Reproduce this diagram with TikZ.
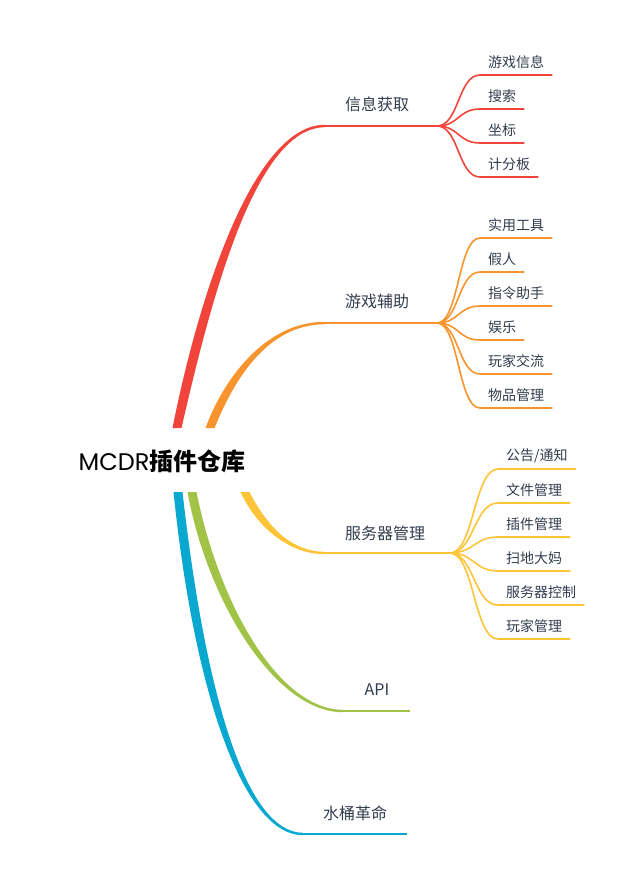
\documentclass[tikz,border=0pt]{standalone}
\usepackage{fontspec}
\newfontfamily\cjk{Noto Sans CJK SC}
\newfontfamily\latin{Poppins}
\usetikzlibrary{calc}
\definecolor{cRed}{RGB}{241,68,58}
\definecolor{cOrange}{RGB}{248,148,46}
\definecolor{cYellow}{RGB}{253,196,56}
\definecolor{cGreen}{RGB}{161,195,72}
\definecolor{cBlue}{RGB}{8,168,208}
\definecolor{ink}{RGB}{51,60,77}
\begin{document}
\begin{tikzpicture}[x=1pt,y=-1pt,
		leaf/.style={anchor=south west,inner xsep=8pt,inner ysep=0pt,minimum height=26pt,font=\cjk\fontsize{14}{16}\selectfont,text=ink},
		topic/.style={font=\cjk\fontsize{16}{18}\selectfont,text=ink},
		twig/.style={draw=#1,line width=1.6pt},
		limb/.style={draw=#1,line width=2.6pt}]
				\useasboundingbox (0,0) rectangle (633,886);
				\node[font=\cjk\fontsize{24}{26}\selectfont,text=black] (root) at (162,461) {{\latin MCDR}{\bfseries 插件仓库}};
				%--
				\coordinate (s1) at (177,428);
				\coordinate (e1) at (325,126);
				\coordinate (h1) at (437,126);
				\fill[cRed] ($(s1)+(-4.5,0)$) .. controls (200,290) and (255,124.6) .. ($(e1)+(0,-1.2)$) -- ($(e1)+(0,1.2)$) .. controls (257,127.4) and (213,290) .. ($(s1)+(4.5,0)$) -- cycle;
				\draw[limb=cRed] (e1) -- (h1);
				\node[topic] (info) at (377,104) {信息获取};
				\node[leaf] (gameinfo) at (480,75) {游戏信息};
				\node[leaf] (search) at (480,109) {搜索};
				\node[leaf] (coords) at (480,143) {坐标};
				\node[leaf] (scoreboard) at (480,177) {计分板};
				\draw[twig=cRed] (h1) .. controls +(22,0) and +(-22,0) .. (gameinfo.south west) -- (gameinfo.south east);
				\draw[twig=cRed] (h1) .. controls +(22,0) and +(-22,0) .. (search.south west) -- (search.south east);
				\draw[twig=cRed] (h1) .. controls +(22,0) and +(-22,0) .. (coords.south west) -- (coords.south east);
				\draw[twig=cRed] (h1) .. controls +(22,0) and +(-22,0) .. (scoreboard.south west) -- (scoreboard.south east);
				%--
				\coordinate (s2) at (210,428);
				\coordinate (e2) at (325,323);
				\coordinate (h2) at (437,323);
				\fill[cOrange] ($(s2)+(-4.5,0)$) .. controls (223,380) and (265,321.6) .. ($(e2)+(0,-1.2)$) -- ($(e2)+(0,1.2)$) .. controls (267,324.4) and (234,380) .. ($(s2)+(4.5,0)$) -- cycle;
				\draw[limb=cOrange] (e2) -- (h2);
				\node[topic] (assist) at (377,301) {游戏辅助};
				\node[leaf] (utils) at (480,238) {实用工具};
				\node[leaf] (bot) at (480,272) {假人};
				\node[leaf] (cmdhelp) at (480,306) {指令助手};
				\node[leaf] (fun) at (480,340) {娱乐};
				\node[leaf] (chat) at (480,374) {玩家交流};
				\node[leaf] (items) at (480,408) {物品管理};
				\draw[twig=cOrange] (h2) .. controls +(22,0) and +(-22,0) .. (utils.south west) -- (utils.south east);
				\draw[twig=cOrange] (h2) .. controls +(22,0) and +(-22,0) .. (bot.south west) -- (bot.south east);
				\draw[twig=cOrange] (h2) .. controls +(22,0) and +(-22,0) .. (cmdhelp.south west) -- (cmdhelp.south east);
				\draw[twig=cOrange] (h2) .. controls +(22,0) and +(-22,0) .. (fun.south west) -- (fun.south east);
				\draw[twig=cOrange] (h2) .. controls +(22,0) and +(-22,0) .. (chat.south west) -- (chat.south east);
				\draw[twig=cOrange] (h2) .. controls +(22,0) and +(-22,0) .. (items.south west) -- (items.south east);
				%--
				\coordinate (s3) at (245,492);
				\coordinate (e3) at (325,553);
				\coordinate (h3) at (450,553);
				\fill[cYellow] ($(s3)+(-4.5,0)$) .. controls (257,528) and (290,554.4) .. ($(e3)+(0,1.2)$) -- ($(e3)+(0,-1.2)$) .. controls (292,551.6) and (268,528) .. ($(s3)+(4.5,0)$) -- cycle;
				\draw[limb=cYellow] (e3) -- (h3);
				\node[topic] (server) at (385,533) {服务器管理};
				\node[leaf] (notice) at (498,469) {公告/通知};
				\node[leaf] (files) at (498,503) {文件管理};
				\node[leaf] (plugins) at (498,537) {插件管理};
				\node[leaf] (cleaner) at (498,571) {扫地大妈};
				\node[leaf] (srvctl) at (498,605) {服务器控制};
				\node[leaf] (players) at (498,639) {玩家管理};
				\draw[twig=cYellow] (h3) .. controls +(24,0) and +(-24,0) .. (notice.south west) -- (notice.south east);
				\draw[twig=cYellow] (h3) .. controls +(24,0) and +(-24,0) .. (files.south west) -- (files.south east);
				\draw[twig=cYellow] (h3) .. controls +(24,0) and +(-24,0) .. (plugins.south west) -- (plugins.south east);
				\draw[twig=cYellow] (h3) .. controls +(24,0) and +(-24,0) .. (cleaner.south west) -- (cleaner.south east);
				\draw[twig=cYellow] (h3) .. controls +(24,0) and +(-24,0) .. (srvctl.south west) -- (srvctl.south east);
				\draw[twig=cYellow] (h3) .. controls +(24,0) and +(-24,0) .. (players.south west) -- (players.south east);
				%--
				\coordinate (s4) at (192,492);
				\coordinate (e4) at (343,711);
				\coordinate (h4) at (410,711);
				\fill[cGreen] ($(s4)+(-4.5,0)$) .. controls (207,600) and (275,712.4) .. ($(e4)+(0,1.2)$) -- ($(e4)+(0,-1.2)$) .. controls (277,709.6) and (218,600) .. ($(s4)+(4.5,0)$) -- cycle;
				\draw[limb=cGreen] (e4) -- (h4);
				\node[topic] (api) at (377,690) {API};
				%--
				\coordinate (s5) at (178,492);
				\coordinate (e5) at (303,834);
				\coordinate (h5) at (407,834);
				\fill[cBlue] ($(s5)+(-4.5,0)$) .. controls (195,700) and (245,835.4) .. ($(e5)+(0,1.2)$) -- ($(e5)+(0,-1.2)$) .. controls (247,832.6) and (206,700) .. ($(s5)+(4.5,0)$) -- cycle;
				\draw[limb=cBlue] (e5) -- (h5);
				\node[topic] (bucket) at (355,813) {水桶革命};
			\end{tikzpicture}
\end{document}
